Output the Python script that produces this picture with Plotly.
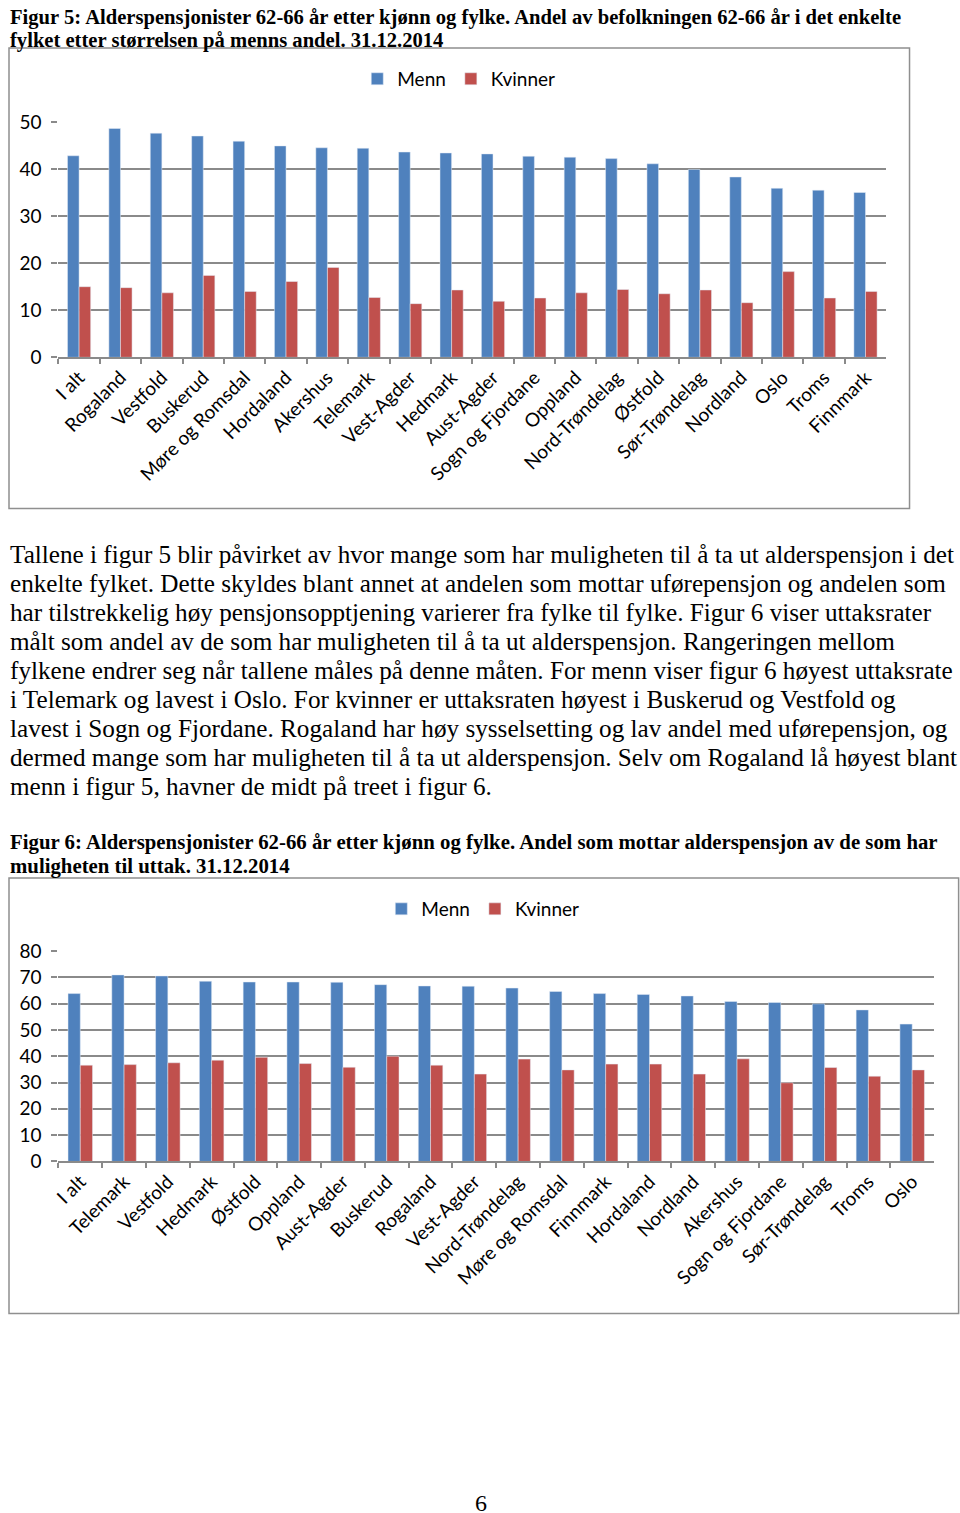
import plotly.graph_objects as go

# Page-pixel targets are mapped onto the figure: the photographed page starts
# the figure at (8, 10) and draws it very slightly reduced.
OX, OY = 8.0, 10.0
SX, SY = 0.99, 0.986
W, H = 962, 1525

# ---------- data: Figur 5 ----------
fig5_categories = ["I alt", "Rogaland", "Vestfold", "Buskerud", "Møre og Romsdal", "Hordaland",
                   "Akershus", "Telemark", "Vest-Agder", "Hedmark", "Aust-Agder", "Sogn og Fjordane",
                   "Oppland", "Nord-Trøndelag", "Østfold", "Sør-Trøndelag", "Nordland", "Oslo",
                   "Troms", "Finnmark"]
fig5_menn = [42.8, 48.6, 47.6, 47.0, 45.9, 44.9, 44.5, 44.4, 43.6, 43.4,
             43.2, 42.7, 42.5, 42.2, 41.1, 39.9, 38.3, 35.9, 35.5, 35.0]
fig5_kvinner = [15.0, 14.8, 13.7, 17.4, 14.0, 16.1, 19.1, 12.7, 11.4, 14.3,
                11.9, 12.6, 13.7, 14.4, 13.5, 14.3, 11.6, 18.2, 12.6, 14.0]
fig5_yticks = [0, 10, 20, 30, 40, 50]

# ---------- data: Figur 6 ----------
fig6_categories = ["I alt", "Telemark", "Vestfold", "Hedmark", "Østfold", "Oppland", "Aust-Agder",
                   "Buskerud", "Rogaland", "Vest-Agder", "Nord-Trøndelag", "Møre og Romsdal",
                   "Finnmark", "Hordaland", "Nordland", "Akershus", "Sogn og Fjordane",
                   "Sør-Trøndelag", "Troms", "Oslo"]
fig6_menn = [63.8, 70.9, 70.5, 68.5, 68.2, 68.2, 68.1, 67.2, 66.7, 66.6,
             65.9, 64.6, 63.8, 63.5, 62.9, 60.8, 60.4, 59.9, 57.6, 52.2]
fig6_kvinner = [36.6, 36.8, 37.5, 38.5, 39.6, 37.2, 35.8, 40.0, 36.6, 33.2,
                38.9, 34.8, 37.0, 37.0, 33.2, 39.0, 29.9, 35.7, 32.4, 34.8]
fig6_yticks = [0, 10, 20, 30, 40, 50, 60, 70, 80]

# ---------- text ----------
title5 = ["Figur 5: Alderspensjonister 62-66 år etter kjønn og fylke. Andel av befolkningen 62-66 år i det enkelte",
          "fylket etter størrelsen på menns andel. 31.12.2014"]
title6 = ["Figur 6: Alderspensjonister 62-66 år etter kjønn og fylke. Andel som mottar alderspensjon av de som har",
          "muligheten til uttak. 31.12.2014"]
body = [
    "Tallene i figur 5 blir påvirket av hvor mange som har muligheten til å ta ut alderspensjon i det",
    "enkelte fylket. Dette skyldes blant annet at andelen som mottar uførepensjon og andelen som",
    "har tilstrekkelig høy pensjonsopptjening varierer fra fylke til fylke. Figur 6 viser uttaksrater",
    "målt som andel av de som har muligheten til å ta ut alderspensjon. Rangeringen mellom",
    "fylkene endrer seg når tallene måles på denne måten. For menn viser figur 6 høyest uttaksrate",
    "i Telemark og lavest i Oslo. For kvinner er uttaksraten høyest i Buskerud og Vestfold og",
    "lavest i Sogn og Fjordane. Rogaland har høy sysselsetting og lav andel med uførepensjon, og",
    "dermed mange som har muligheten til å ta ut alderspensjon. Selv om Rogaland lå høyest blant",
    "menn i figur 5, havner de midt på treet i figur 6.",
]
page_number = "6"

BLUE = "#4F81BD"
RED = "#C0504D"
GRID = "#8a8a8a"
SANS = "Lato, Open Sans, sans-serif"
SERIF = "Liberation Serif, Times New Roman, serif"


def px(x):
    return max((x - OX) / SX, 0.0) / W


def py(y):
    return 1 - max((y - OY) / SY, 0.0) / H


fig = go.Figure()
fig.add_trace(go.Bar(x=fig5_categories, y=fig5_menn, name="Menn", marker_color=BLUE,
                     xaxis="x", yaxis="y", legend="legend"))
fig.add_trace(go.Bar(x=fig5_categories, y=fig5_kvinner, name="Kvinner", marker_color=RED,
                     xaxis="x", yaxis="y", legend="legend"))
fig.add_trace(go.Bar(x=fig6_categories, y=fig6_menn, name="Menn", marker_color=BLUE,
                     xaxis="x2", yaxis="y2", legend="legend2"))
fig.add_trace(go.Bar(x=fig6_categories, y=fig6_kvinner, name="Kvinner", marker_color=RED,
                     xaxis="x2", yaxis="y2", legend="legend2"))

xcommon = dict(type="category", showline=True, linecolor=GRID, linewidth=1.5,
               ticks="outside", tickson="boundaries", ticklen=5, tickcolor=GRID, tickwidth=1.5,
               tickangle=-45, tickfont=dict(family=SANS, size=19, color="#000"),
               showgrid=False, zeroline=False, fixedrange=True)
ycommon = dict(showgrid=True, gridcolor=GRID, gridwidth=1.5, zeroline=False, showline=False,
               ticks="outside", ticklen=6, tickcolor=GRID, tickwidth=1.5,
               tickfont=dict(family=SANS, size=19, color="#000"), ticklabelstandoff=6,
               fixedrange=True)

layout = dict(
    width=W, height=H, autosize=False,
    margin=dict(l=0, r=0, t=0, b=0),
    paper_bgcolor="white", plot_bgcolor="white",
    barmode="group", bargap=0.44, bargroupgap=0,
    xaxis=dict(xcommon, domain=[px(58.3), px(884.7)], anchor="y"),
    yaxis=dict(ycommon, domain=[py(355.7), py(120)], range=[0, 50], tickvals=fig5_yticks, anchor="x"),
    xaxis2=dict(xcommon, domain=[px(58.3), px(932.5)], anchor="y2"),
    yaxis2=dict(ycommon, domain=[py(1160.7), py(950)], range=[0, 80], tickvals=fig6_yticks, anchor="x2"),
    legend=dict(orientation="h", x=px(458), y=py(77), xanchor="center", yanchor="middle",
                font=dict(family=SANS, size=19, color="#000"), bgcolor="rgba(0,0,0,0)"),
    legend2=dict(orientation="h", x=px(482), y=py(908), xanchor="center", yanchor="middle",
                 font=dict(family=SANS, size=19, color="#000"), bgcolor="rgba(0,0,0,0)"),
    showlegend=True,
)
fig.update_layout(layout)

# chart frames
for (x0, y0, x1, y1) in [(9, 46, 908, 507), (9, 877, 957, 1313)]:
    fig.add_shape(type="rect", xref="paper", yref="paper",
                  x0=px(x0), x1=px(x1), y0=py(y1), y1=py(y0),
                  line=dict(color="#8f8f8f", width=1.5), fillcolor="rgba(0,0,0,0)", layer="below")

annotations = []


def add_line(text, x, y, size, bold=False, xanchor="left"):
    t = f"<b>{text}</b>" if bold else text
    annotations.append(dict(text=t, x=px(x), y=py(y), xref="paper", yref="paper",
                            xanchor=xanchor, yanchor="middle", showarrow=False,
                            font=dict(family=SERIF, size=size, color="#000")))


add_line(title5[0], 8, 15.5, 20.6, bold=True)
add_line(title5[1], 8, 38.5, 20.6, bold=True)
for i, line in enumerate(body):
    add_line(line, 8, 553 + i * 29, 25.2)
for i, line in enumerate(title6):
    add_line(line, 8, 841 + i * 24, 20.8, bold=True)
add_line(page_number, 480, 1503, 24, xanchor="center")

fig.update_layout(annotations=annotations)

fig.write_html("out.html", config={"displayModeBar": False},
               post_script="document.body.style.margin='0';")
